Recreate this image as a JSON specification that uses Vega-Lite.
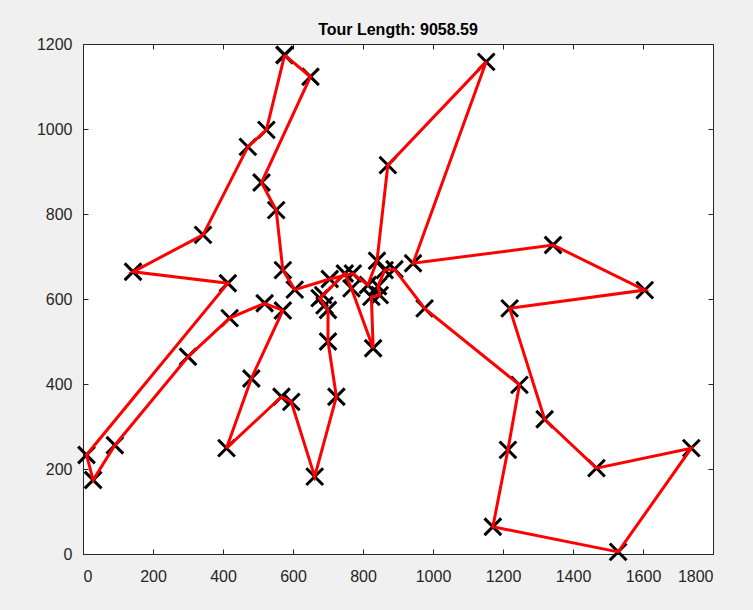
{
  "$schema": "https://vega.github.io/schema/vega-lite/v6.json",
  "width": 630,
  "height": 510,
  "autosize": {"type": "none"},
  "padding": {"left": 83, "top": 44, "right": 40, "bottom": 56},
  "background": "#f0f0f0",
  "config": {
    "view": {"fill": "white", "stroke": "#262626", "strokeWidth": 1},
    "font": "Liberation Sans",
    "axis": {"grid": false, "domain": false, "tickSize": 5, "tickColor": "#262626", "labelColor": "#262626", "labelFontSize": 16, "labelFont": "Liberation Sans", "title": null, "format": "d"}
  },
  "title": {"text": "Tour Length: 9058.59", "fontSize": 16, "fontWeight": "bold", "font": "Liberation Sans", "color": "#000000", "anchor": "middle", "offset": -2},
  "data": {"values": [
    {"i": 1, "x": 576, "y": 1174},
    {"i": 2, "x": 650, "y": 1123},
    {"i": 3, "x": 510, "y": 874},
    {"i": 4, "x": 552, "y": 809},
    {"i": 5, "x": 571, "y": 668},
    {"i": 6, "x": 605, "y": 622},
    {"i": 7, "x": 705, "y": 647},
    {"i": 8, "x": 771, "y": 660},
    {"i": 9, "x": 814, "y": 633},
    {"i": 10, "x": 840, "y": 690},
    {"i": 11, "x": 871, "y": 915},
    {"i": 12, "x": 1152, "y": 1158},
    {"i": 13, "x": 943, "y": 684},
    {"i": 14, "x": 1343, "y": 727},
    {"i": 15, "x": 1605, "y": 621},
    {"i": 16, "x": 1219, "y": 578},
    {"i": 17, "x": 1319, "y": 317},
    {"i": 18, "x": 1467, "y": 202},
    {"i": 19, "x": 1738, "y": 249},
    {"i": 20, "x": 1529, "y": 5},
    {"i": 21, "x": 1171, "y": 64},
    {"i": 22, "x": 1214, "y": 245},
    {"i": 23, "x": 1247, "y": 398},
    {"i": 24, "x": 976, "y": 578},
    {"i": 25, "x": 890, "y": 670},
    {"i": 26, "x": 862, "y": 668},
    {"i": 27, "x": 843, "y": 630},
    {"i": 28, "x": 848, "y": 609},
    {"i": 29, "x": 824, "y": 605},
    {"i": 30, "x": 829, "y": 484},
    {"i": 31, "x": 767, "y": 625},
    {"i": 32, "x": 748, "y": 660},
    {"i": 33, "x": 686, "y": 609},
    {"i": 34, "x": 676, "y": 602},
    {"i": 35, "x": 690, "y": 585},
    {"i": 36, "x": 700, "y": 574},
    {"i": 37, "x": 700, "y": 500},
    {"i": 38, "x": 724, "y": 370},
    {"i": 39, "x": 662, "y": 182},
    {"i": 40, "x": 595, "y": 358},
    {"i": 41, "x": 567, "y": 370},
    {"i": 42, "x": 410, "y": 249},
    {"i": 43, "x": 481, "y": 413},
    {"i": 44, "x": 571, "y": 573},
    {"i": 45, "x": 519, "y": 590},
    {"i": 46, "x": 419, "y": 555},
    {"i": 47, "x": 300, "y": 464},
    {"i": 48, "x": 91, "y": 256},
    {"i": 49, "x": 29, "y": 174},
    {"i": 50, "x": 10, "y": 233},
    {"i": 51, "x": 414, "y": 637},
    {"i": 52, "x": 143, "y": 664},
    {"i": 53, "x": 343, "y": 751},
    {"i": 54, "x": 471, "y": 958},
    {"i": 55, "x": 524, "y": 998},
    {"i": 56, "x": 576, "y": 1174}
  ]},
  "layer": [
    {
      "mark": {"type": "point", "shape": "M-1,-1L1,1M-1,1L1,-1", "filled": false, "stroke": "#000000", "strokeWidth": 3, "size": 280, "opacity": 1},
      "encoding": {
        "x": {"field": "x", "type": "quantitative", "scale": {"domain": [0, 1800], "nice": false, "zero": false}, "axis": {"orient": "top", "offset": -510, "labels": false, "values": [0,200,400,600,800,1000,1200,1400,1600,1800]}},
        "y": {"field": "y", "type": "quantitative", "scale": {"domain": [0, 1200], "nice": false, "zero": false}, "axis": {"orient": "right", "offset": -630, "labels": false, "values": [0,200,400,600,800,1000,1200]}}
      }
    },
    {
      "mark": {"type": "line", "color": "#ff0000", "strokeWidth": 3},
      "encoding": {
        "x": {"field": "x", "type": "quantitative", "axis": {"orient": "bottom", "offset": -510, "labels": false, "values": [0,200,400,600,800,1000,1200,1400,1600,1800]}},
        "y": {"field": "y", "type": "quantitative", "axis": {"orient": "left", "offset": -630, "labels": false, "values": [0,200,400,600,800,1000,1200]}},
        "order": {"field": "i", "type": "quantitative"}
      }
    },
    {
      "mark": {"type": "point", "opacity": 0, "size": 1},
      "encoding": {
        "x": {"field": "x", "type": "quantitative", "axis": {"orient": "bottom", "ticks": false, "labelPadding": 14, "values": [0,200,400,600,800,1000,1200,1400,1600,1800]}},
        "y": {"field": "y", "type": "quantitative", "axis": {"orient": "left", "ticks": false, "labelPadding": 11, "values": [0,200,400,600,800,1000,1200]}}
      }
    }
  ],
  "resolve": {"axis": {"x": "independent", "y": "independent"}}
}
